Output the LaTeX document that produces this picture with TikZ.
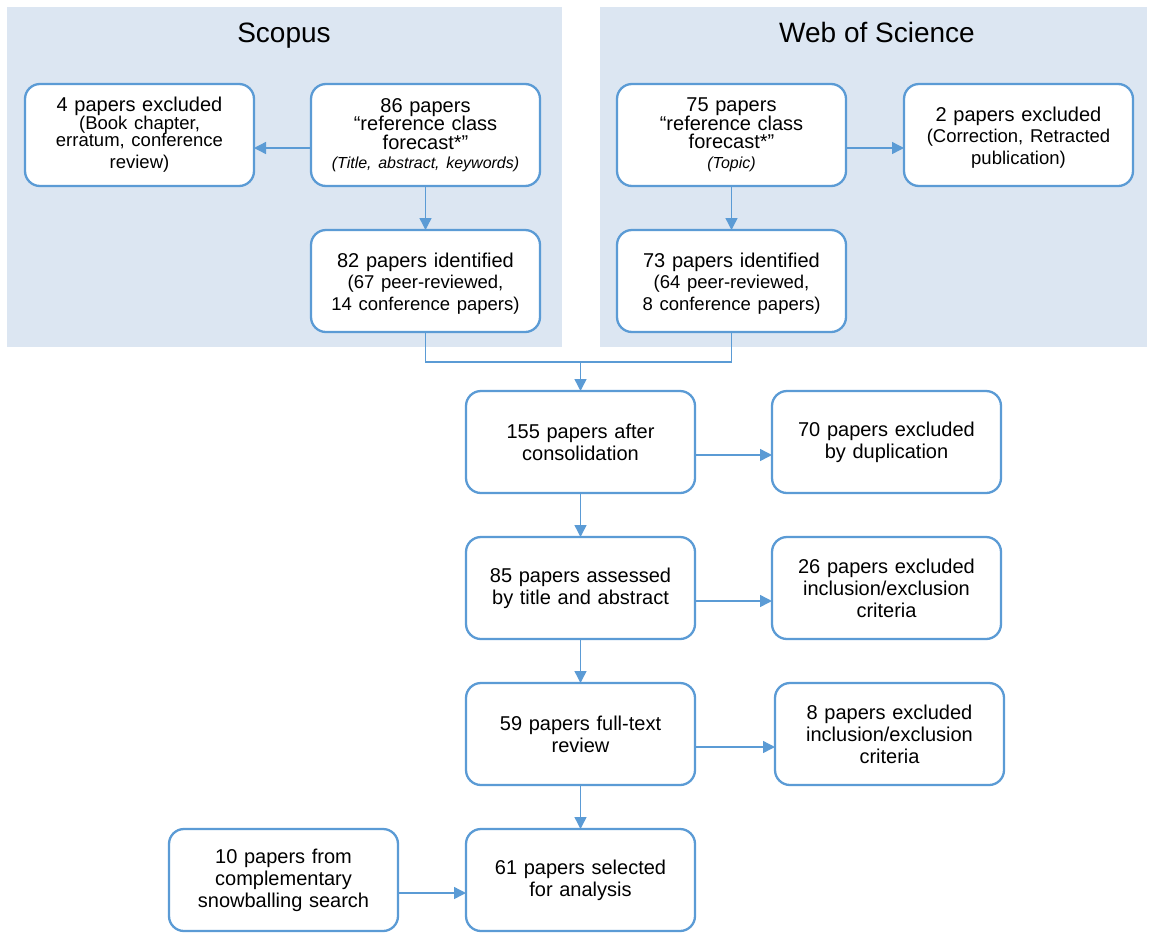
\documentclass[tikz,border=0pt]{standalone}
\usepackage{fontspec}
\setmainfont{Liberation Sans}
\usetikzlibrary{positioning,arrows.meta}

\definecolor{boxblue}{RGB}{91,155,213}
\definecolor{panelblue}{RGB}{220,230,242}

\newcommand{\subtxt}{\fontsize{18.5}{21}\selectfont}
\newcommand{\tighttxt}{\fontsize{20}{18.5}\selectfont\lineskiplimit=-20pt}
\newcommand{\lowr}{\rule{0pt}{20pt}}

\begin{document}
\begin{tikzpicture}[x=1pt,y=-1pt,
  box/.style={draw=boxblue,line width=2.3pt,fill=white,rounded corners=15pt,
    minimum width=229pt,minimum height=102pt,text width=215pt,align=center,
    inner sep=0pt,outer sep=0pt,font=\fontsize{20}{22}\selectfont},
  panel/.style={fill=panelblue},
  paneltitle/.style={font=\fontsize{28}{30}\selectfont,anchor=base},
  link/.style={draw=boxblue,line width=1.4pt},
  arr/.style={link,-{Triangle[length=12pt,width=12pt]}},
  node distance=44pt]

  \useasboundingbox (0,0) rectangle (1150,932);

  % database panels
  \fill[panel] (7,7) rectangle (562,347);
  \fill[panel] (600,7) rectangle (1147,347);
  \node[paneltitle] (scopus) at (284,42) {Scopus};
  \node[paneltitle] (wos) at (877,42) {Web of Science};

  % Scopus
  \node[box] (sc86) at (425.5,135) {\tighttxt 86 papers\\ “reference class\\ forecast*”\\[-2.5pt] {\fontsize{16}{18}\selectfont\itshape (Title, abstract, keywords)}};
  \node[box,left=57pt of sc86] (scx) {\tighttxt 4 papers excluded\\ \fontsize{18.5}{17.5}\selectfont (Book chapter,\\ erratum, conference\\ review)};
  \node[box,below=of sc86] (sc82) {\lowr 82 papers identified\\ \subtxt (67 peer-reviewed,\\ 14 conference papers)};

  % Web of Science
  \node[box] (ws75) at (731.5,135) {\tighttxt 75 papers\\ “reference class\\ forecast*”\\[-2.5pt] {\fontsize{16}{18}\selectfont\itshape (Topic)}};
  \node[box,right=58pt of ws75] (wsx) {\lowr 2 papers excluded\\ \subtxt (Correction, Retracted\\ publication)};
  \node[box,below=of ws75] (ws73) {\lowr 73 papers identified\\ \subtxt (64 peer-reviewed,\\ 8 conference papers)};

  % screening
  \node[box] (cons) at (580.5,442) {155 papers after\\ consolidation};
  \node[box,right=77pt of cons] (dupl) {70 papers excluded\\ by duplication};
  \node[box,below=of cons] (titab) {85 papers assessed\\ by title and abstract};
  \node[box,right=77pt of titab] (crit1) {26 papers excluded\\ inclusion/exclusion\\ criteria};
  \node[box,below=of titab] (full) {59 papers full-text\\ review};
  \node[box,right=80pt of full] (crit2) {8 papers excluded\\ inclusion/exclusion\\ criteria};
  \node[box,below=of full] (sel) {61 papers selected\\ for analysis};
  \node[box,left=68pt of sel] (snow) {10 papers from\\ complementary\\ snowballing search};

  \coordinate (join) at (580.5,362);

  \draw[arr] ([yshift=-13pt]sc86.west) -- ([yshift=-13pt]scx.east);
  \draw[arr] (sc86.south) -- (sc82.north);
  \draw[arr] ([yshift=-13pt]ws75.east) -- ([yshift=-13pt]wsx.west);
  \draw[arr] (ws75.south) -- (ws73.north);
  \draw[link] (sc82.south) |- (join) -| (ws73.south);
  \draw[arr] (join) -- (cons.north);
  \draw[arr] ([yshift=-13pt]cons.east) -- ([yshift=-13pt]dupl.west);
  \draw[arr] (cons.south) -- (titab.north);
  \draw[arr] ([yshift=-13pt]titab.east) -- ([yshift=-13pt]crit1.west);
  \draw[arr] (titab.south) -- (full.north);
  \draw[arr] ([yshift=-13pt]full.east) -- ([yshift=-13pt]crit2.west);
  \draw[arr] (full.south) -- (sel.north);
  \draw[arr] ([yshift=-13pt]snow.east) -- ([yshift=-13pt]sel.west);

\end{tikzpicture}
\end{document}
